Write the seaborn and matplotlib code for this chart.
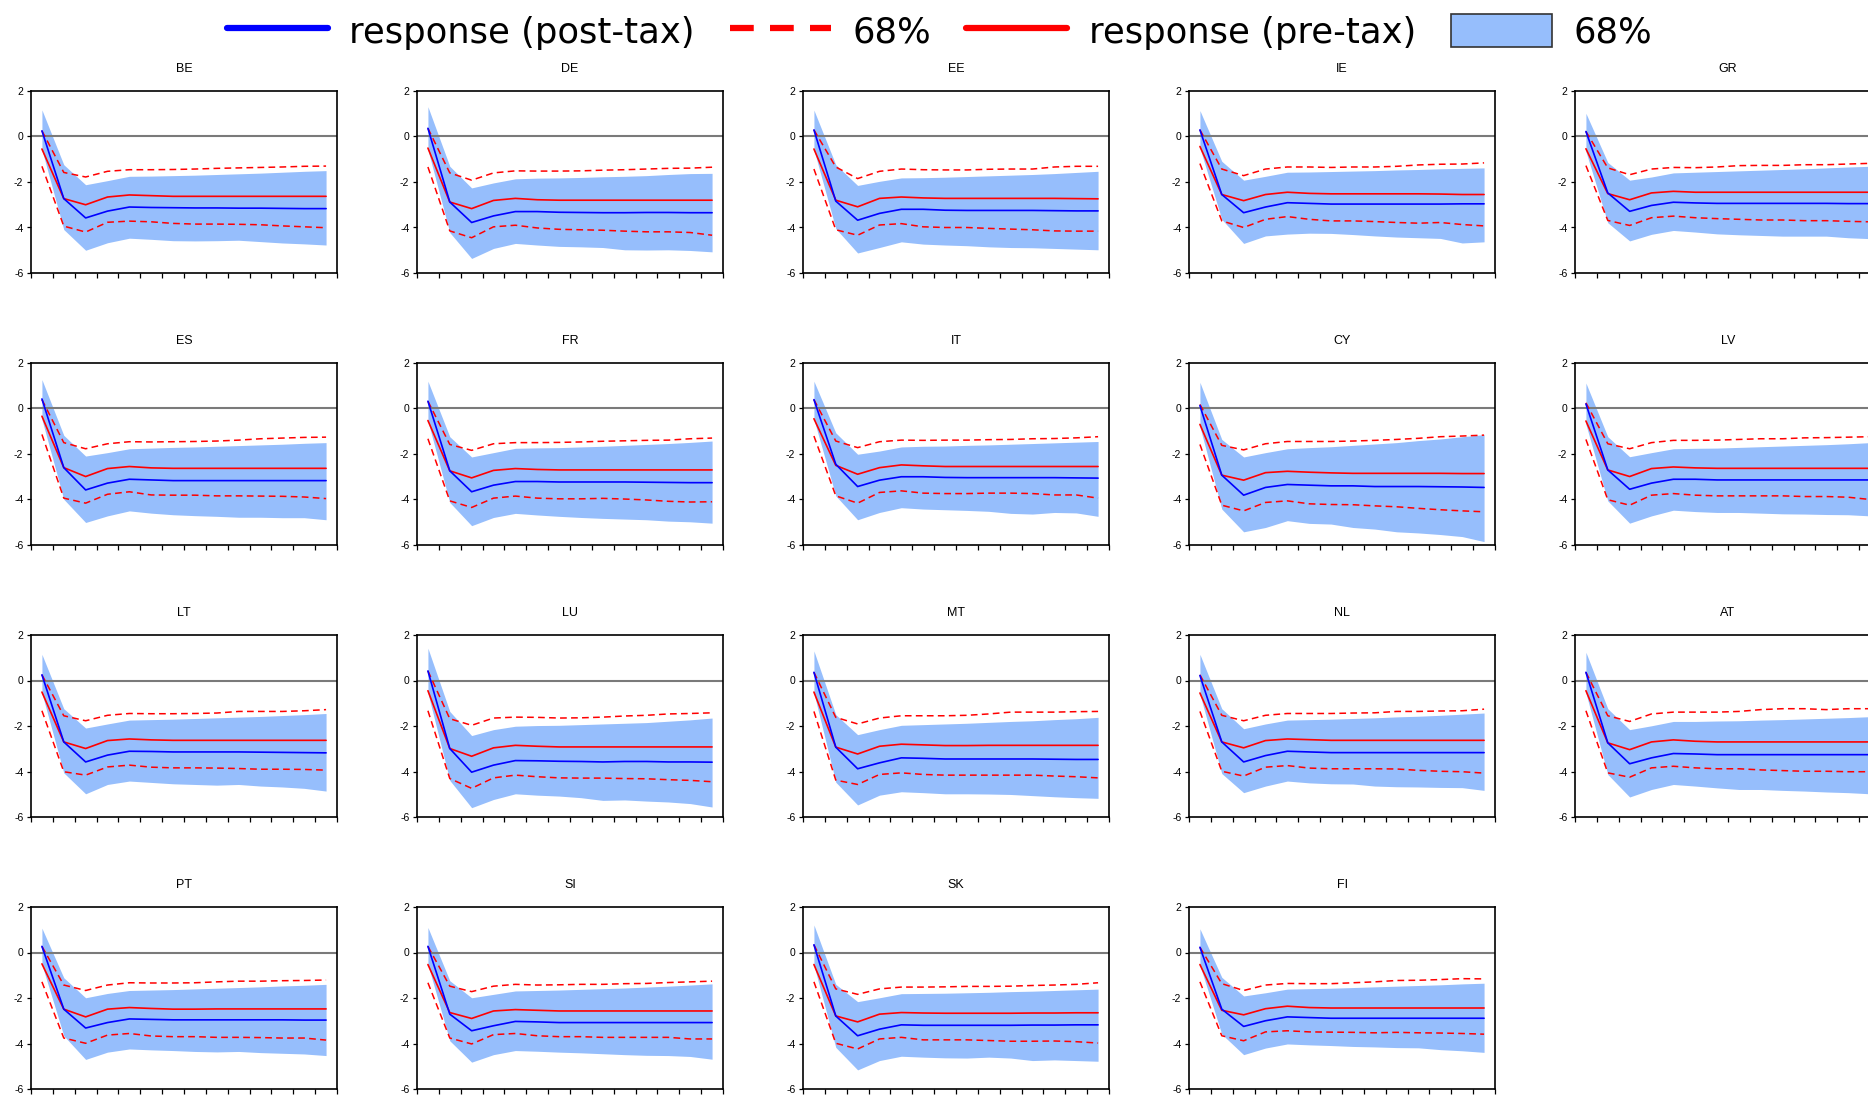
import matplotlib
matplotlib.use("Agg")
import matplotlib.pyplot as plt
import numpy as np
import pandas as pd
import seaborn as sns
from matplotlib.lines import Line2D
from matplotlib.patches import Patch

# ---------------------------------------------------------------------------
# Impulse responses by country, horizons 1..14
# ---------------------------------------------------------------------------
countries = ["BE", "DE", "EE", "IE", "GR",
             "ES", "FR", "IT", "CY", "LV",
             "LT", "LU", "MT", "NL", "AT",
             "PT", "SI", "SK", "FI"]
horizon = list(range(1, 15))

# response (post-tax)
post_tax = {
    "BE": [0.25, -2.73, -3.58, -3.28, -3.10, -3.12, -3.13, -3.14, -3.14, -3.15, -3.15, -3.16, -3.17, -3.17],
    "DE": [0.36, -2.88, -3.78, -3.49, -3.30, -3.30, -3.33, -3.34, -3.35, -3.35, -3.34, -3.34, -3.35, -3.35],
    "EE": [0.29, -2.84, -3.68, -3.38, -3.20, -3.20, -3.24, -3.25, -3.25, -3.25, -3.25, -3.26, -3.27, -3.27],
    "IE": [0.29, -2.55, -3.35, -3.10, -2.91, -2.94, -2.97, -2.97, -2.97, -2.97, -2.97, -2.97, -2.96, -2.96],
    "GR": [0.22, -2.48, -3.29, -3.03, -2.89, -2.92, -2.94, -2.94, -2.94, -2.94, -2.94, -2.94, -2.95, -2.95],
    "ES": [0.42, -2.60, -3.58, -3.28, -3.11, -3.14, -3.17, -3.17, -3.17, -3.17, -3.17, -3.17, -3.17, -3.17],
    "FR": [0.32, -2.74, -3.66, -3.37, -3.21, -3.21, -3.23, -3.23, -3.23, -3.23, -3.24, -3.25, -3.26, -3.26],
    "IT": [0.39, -2.45, -3.43, -3.15, -3.00, -3.00, -3.03, -3.04, -3.04, -3.04, -3.04, -3.04, -3.05, -3.06],
    "CY": [0.13, -2.93, -3.81, -3.47, -3.34, -3.37, -3.40, -3.40, -3.43, -3.43, -3.43, -3.44, -3.45, -3.47],
    "LV": [0.20, -2.70, -3.55, -3.28, -3.11, -3.11, -3.14, -3.14, -3.14, -3.14, -3.14, -3.14, -3.14, -3.14],
    "LT": [0.25, -2.70, -3.58, -3.28, -3.11, -3.12, -3.14, -3.14, -3.14, -3.14, -3.15, -3.16, -3.17, -3.18],
    "LU": [0.42, -2.99, -4.03, -3.72, -3.52, -3.53, -3.55, -3.56, -3.58, -3.56, -3.56, -3.58, -3.58, -3.59],
    "MT": [0.36, -2.93, -3.88, -3.62, -3.40, -3.42, -3.45, -3.45, -3.45, -3.45, -3.45, -3.46, -3.47, -3.47],
    "NL": [0.22, -2.70, -3.58, -3.30, -3.11, -3.14, -3.17, -3.17, -3.17, -3.17, -3.17, -3.17, -3.17, -3.17],
    "AT": [0.36, -2.74, -3.66, -3.40, -3.21, -3.23, -3.26, -3.26, -3.26, -3.26, -3.26, -3.26, -3.26, -3.26],
    "PT": [0.27, -2.49, -3.32, -3.08, -2.92, -2.94, -2.96, -2.96, -2.96, -2.96, -2.96, -2.96, -2.97, -2.97],
    "SI": [0.27, -2.71, -3.44, -3.22, -3.03, -3.05, -3.08, -3.08, -3.08, -3.08, -3.08, -3.08, -3.08, -3.08],
    "SK": [0.34, -2.79, -3.66, -3.37, -3.18, -3.20, -3.20, -3.20, -3.20, -3.20, -3.19, -3.19, -3.18, -3.18],
    "FI": [0.23, -2.49, -3.25, -3.00, -2.83, -2.86, -2.89, -2.89, -2.89, -2.89, -2.89, -2.89, -2.89, -2.89],
}

# 68% band around the post-tax response (lower / upper)
post_lo = {
    "BE": [-0.58, -4.09, -5.00, -4.67, -4.47, -4.52, -4.58, -4.59, -4.58, -4.56, -4.62, -4.68, -4.72, -4.77],
    "DE": [-0.58, -4.22, -5.36, -4.92, -4.70, -4.77, -4.83, -4.85, -4.88, -4.98, -4.99, -4.98, -5.01, -5.07],
    "EE": [-0.58, -4.05, -5.12, -4.88, -4.63, -4.73, -4.77, -4.80, -4.85, -4.88, -4.89, -4.92, -4.95, -4.98],
    "IE": [-0.51, -3.64, -4.70, -4.37, -4.29, -4.25, -4.26, -4.31, -4.37, -4.42, -4.45, -4.48, -4.68, -4.63],
    "GR": [-0.66, -3.79, -4.59, -4.30, -4.13, -4.20, -4.28, -4.32, -4.35, -4.38, -4.38, -4.38, -4.45, -4.49],
    "ES": [-0.48, -3.99, -5.01, -4.72, -4.50, -4.60, -4.67, -4.71, -4.74, -4.78, -4.78, -4.80, -4.80, -4.89],
    "FR": [-0.55, -4.13, -5.15, -4.79, -4.61, -4.68, -4.74, -4.79, -4.83, -4.86, -4.89, -4.95, -4.98, -5.04],
    "IT": [-0.48, -3.84, -4.89, -4.57, -4.36, -4.42, -4.45, -4.48, -4.52, -4.61, -4.64, -4.57, -4.59, -4.74],
    "CY": [-0.80, -4.42, -5.42, -5.23, -4.93, -5.05, -5.08, -5.23, -5.30, -5.42, -5.47, -5.54, -5.63, -5.85],
    "LV": [-0.70, -4.06, -5.04, -4.72, -4.47, -4.53, -4.57, -4.57, -4.60, -4.63, -4.64, -4.66, -4.67, -4.72],
    "LT": [-0.55, -4.06, -4.98, -4.57, -4.42, -4.48, -4.54, -4.57, -4.60, -4.57, -4.64, -4.68, -4.74, -4.86],
    "LU": [-0.55, -4.39, -5.59, -5.23, -4.98, -5.04, -5.08, -5.15, -5.27, -5.25, -5.30, -5.34, -5.41, -5.56],
    "MT": [-0.55, -4.47, -5.47, -5.04, -4.89, -4.93, -4.98, -4.98, -4.99, -5.01, -5.06, -5.11, -5.15, -5.18],
    "NL": [-0.60, -4.09, -4.93, -4.64, -4.42, -4.50, -4.54, -4.55, -4.64, -4.67, -4.68, -4.70, -4.71, -4.83],
    "AT": [-0.55, -4.13, -5.12, -4.79, -4.57, -4.64, -4.72, -4.79, -4.79, -4.83, -4.86, -4.90, -4.93, -4.98],
    "PT": [-0.53, -3.66, -4.70, -4.38, -4.24, -4.28, -4.31, -4.35, -4.37, -4.35, -4.40, -4.43, -4.46, -4.53],
    "SI": [-0.53, -3.88, -4.82, -4.49, -4.31, -4.34, -4.38, -4.41, -4.45, -4.49, -4.52, -4.53, -4.57, -4.69],
    "SK": [-0.56, -4.17, -5.16, -4.75, -4.56, -4.60, -4.63, -4.64, -4.60, -4.64, -4.75, -4.72, -4.75, -4.78],
    "FI": [-0.56, -3.59, -4.49, -4.20, -4.02, -4.06, -4.09, -4.13, -4.15, -4.18, -4.19, -4.27, -4.32, -4.39],
}
post_hi = {
    "BE": [1.17, -1.24, -2.12, -1.94, -1.75, -1.74, -1.72, -1.70, -1.67, -1.64, -1.61, -1.57, -1.53, -1.50],
    "DE": [1.31, -1.31, -2.26, -2.04, -1.86, -1.83, -1.82, -1.80, -1.77, -1.75, -1.72, -1.67, -1.63, -1.62],
    "EE": [1.16, -1.24, -2.15, -1.97, -1.82, -1.81, -1.79, -1.76, -1.73, -1.70, -1.67, -1.63, -1.58, -1.53],
    "IE": [1.14, -1.09, -1.92, -1.75, -1.57, -1.56, -1.54, -1.52, -1.50, -1.47, -1.45, -1.42, -1.40, -1.38],
    "GR": [1.02, -1.14, -1.92, -1.78, -1.60, -1.57, -1.54, -1.51, -1.48, -1.45, -1.42, -1.38, -1.34, -1.31],
    "ES": [1.27, -1.18, -2.09, -1.94, -1.77, -1.74, -1.71, -1.69, -1.66, -1.63, -1.60, -1.57, -1.53, -1.50],
    "FR": [1.20, -1.24, -2.13, -1.94, -1.75, -1.73, -1.72, -1.69, -1.66, -1.62, -1.58, -1.54, -1.49, -1.43],
    "IT": [1.20, -1.07, -2.01, -1.87, -1.69, -1.66, -1.65, -1.62, -1.60, -1.57, -1.54, -1.51, -1.48, -1.45],
    "CY": [1.15, -1.36, -2.13, -1.94, -1.77, -1.72, -1.68, -1.62, -1.56, -1.50, -1.41, -1.34, -1.24, -1.15],
    "LV": [1.12, -1.24, -2.12, -1.94, -1.77, -1.75, -1.74, -1.71, -1.68, -1.65, -1.62, -1.59, -1.55, -1.50],
    "LT": [1.15, -1.24, -2.09, -1.91, -1.74, -1.72, -1.70, -1.67, -1.64, -1.61, -1.58, -1.54, -1.50, -1.45],
    "LU": [1.42, -1.36, -2.42, -2.16, -2.01, -1.98, -1.97, -1.94, -1.91, -1.88, -1.85, -1.79, -1.73, -1.65],
    "MT": [1.30, -1.50, -2.38, -2.16, -1.97, -1.94, -1.91, -1.88, -1.84, -1.80, -1.77, -1.72, -1.68, -1.62],
    "NL": [1.15, -1.24, -2.12, -1.91, -1.74, -1.72, -1.70, -1.67, -1.64, -1.60, -1.57, -1.53, -1.48, -1.43],
    "AT": [1.24, -1.24, -2.16, -1.99, -1.80, -1.80, -1.78, -1.77, -1.74, -1.72, -1.69, -1.66, -1.63, -1.59],
    "PT": [1.07, -1.11, -1.99, -1.80, -1.67, -1.65, -1.63, -1.60, -1.57, -1.54, -1.51, -1.47, -1.44, -1.40],
    "SI": [1.10, -1.24, -1.99, -1.84, -1.69, -1.67, -1.65, -1.62, -1.59, -1.56, -1.52, -1.48, -1.43, -1.38],
    "SK": [1.21, -1.40, -2.16, -1.99, -1.81, -1.80, -1.79, -1.77, -1.75, -1.72, -1.70, -1.67, -1.64, -1.61],
    "FI": [1.04, -1.09, -1.91, -1.77, -1.61, -1.59, -1.57, -1.54, -1.51, -1.48, -1.45, -1.42, -1.38, -1.35],
}

# response (pre-tax)
pre_tax = {
    "BE": [-0.55, -2.73, -3.00, -2.66, -2.57, -2.60, -2.63, -2.63, -2.63, -2.63, -2.63, -2.63, -2.63, -2.63],
    "DE": [-0.51, -2.88, -3.17, -2.81, -2.72, -2.78, -2.80, -2.80, -2.80, -2.80, -2.80, -2.80, -2.80, -2.80],
    "EE": [-0.55, -2.80, -3.09, -2.72, -2.66, -2.70, -2.72, -2.72, -2.72, -2.72, -2.72, -2.72, -2.73, -2.74],
    "IE": [-0.44, -2.55, -2.82, -2.55, -2.45, -2.50, -2.52, -2.52, -2.52, -2.52, -2.52, -2.53, -2.55, -2.55],
    "GR": [-0.54, -2.51, -2.78, -2.48, -2.41, -2.45, -2.45, -2.45, -2.45, -2.45, -2.45, -2.45, -2.45, -2.45],
    "ES": [-0.34, -2.60, -2.99, -2.64, -2.55, -2.61, -2.63, -2.63, -2.63, -2.63, -2.63, -2.63, -2.63, -2.63],
    "FR": [-0.53, -2.74, -3.05, -2.72, -2.64, -2.68, -2.70, -2.70, -2.70, -2.70, -2.70, -2.70, -2.70, -2.70],
    "IT": [-0.45, -2.50, -2.89, -2.60, -2.48, -2.52, -2.55, -2.55, -2.55, -2.55, -2.55, -2.55, -2.55, -2.55],
    "CY": [-0.70, -2.93, -3.15, -2.82, -2.76, -2.80, -2.83, -2.85, -2.85, -2.85, -2.85, -2.85, -2.86, -2.86],
    "LV": [-0.55, -2.70, -2.99, -2.64, -2.57, -2.61, -2.63, -2.63, -2.63, -2.63, -2.63, -2.63, -2.63, -2.63],
    "LT": [-0.51, -2.70, -2.99, -2.64, -2.57, -2.61, -2.63, -2.63, -2.63, -2.63, -2.63, -2.63, -2.63, -2.63],
    "LU": [-0.45, -2.99, -3.33, -2.96, -2.85, -2.89, -2.92, -2.92, -2.92, -2.92, -2.92, -2.92, -2.92, -2.92],
    "MT": [-0.51, -2.93, -3.23, -2.89, -2.80, -2.83, -2.86, -2.86, -2.85, -2.85, -2.85, -2.85, -2.85, -2.85],
    "NL": [-0.55, -2.70, -2.96, -2.64, -2.57, -2.60, -2.63, -2.63, -2.63, -2.63, -2.63, -2.63, -2.63, -2.63],
    "AT": [-0.45, -2.74, -3.04, -2.70, -2.61, -2.67, -2.70, -2.70, -2.70, -2.70, -2.70, -2.70, -2.70, -2.70],
    "PT": [-0.50, -2.49, -2.83, -2.49, -2.42, -2.46, -2.49, -2.49, -2.48, -2.48, -2.48, -2.48, -2.48, -2.48],
    "SI": [-0.53, -2.64, -2.90, -2.57, -2.51, -2.54, -2.57, -2.57, -2.57, -2.57, -2.57, -2.57, -2.57, -2.57],
    "SK": [-0.53, -2.79, -3.05, -2.71, -2.64, -2.66, -2.67, -2.67, -2.67, -2.67, -2.66, -2.66, -2.65, -2.65],
    "FI": [-0.53, -2.54, -2.74, -2.47, -2.36, -2.42, -2.44, -2.44, -2.44, -2.44, -2.44, -2.44, -2.44, -2.44],
}

# 68% bounds around the pre-tax response (lower / upper, dashed)
pre_lo = {
    "BE": [-1.31, -3.94, -4.20, -3.77, -3.72, -3.75, -3.82, -3.85, -3.85, -3.86, -3.88, -3.93, -3.97, -4.01],
    "DE": [-1.34, -4.15, -4.45, -3.97, -3.90, -4.02, -4.08, -4.10, -4.12, -4.16, -4.19, -4.19, -4.22, -4.34],
    "EE": [-1.43, -4.10, -4.34, -3.89, -3.83, -3.97, -4.00, -4.00, -4.04, -4.07, -4.10, -4.15, -4.16, -4.16],
    "IE": [-1.19, -3.71, -4.00, -3.64, -3.52, -3.64, -3.71, -3.71, -3.74, -3.78, -3.81, -3.78, -3.87, -3.93],
    "GR": [-1.28, -3.69, -3.91, -3.57, -3.50, -3.57, -3.61, -3.64, -3.67, -3.67, -3.70, -3.70, -3.73, -3.75],
    "ES": [-1.14, -3.94, -4.16, -3.77, -3.66, -3.80, -3.81, -3.81, -3.84, -3.84, -3.85, -3.86, -3.89, -3.96],
    "FR": [-1.33, -4.06, -4.35, -3.94, -3.85, -3.94, -3.97, -3.97, -3.95, -3.98, -4.02, -4.08, -4.11, -4.10],
    "IT": [-1.21, -3.84, -4.16, -3.69, -3.62, -3.72, -3.74, -3.74, -3.72, -3.72, -3.74, -3.80, -3.80, -3.94],
    "CY": [-1.58, -4.25, -4.50, -4.13, -4.06, -4.19, -4.22, -4.23, -4.28, -4.32, -4.39, -4.45, -4.50, -4.54],
    "LV": [-1.36, -4.01, -4.25, -3.81, -3.74, -3.81, -3.84, -3.84, -3.84, -3.84, -3.87, -3.87, -3.90, -4.00],
    "LT": [-1.33, -4.01, -4.16, -3.80, -3.72, -3.81, -3.84, -3.84, -3.85, -3.87, -3.90, -3.90, -3.91, -3.94],
    "LU": [-1.33, -4.31, -4.74, -4.28, -4.16, -4.23, -4.28, -4.29, -4.29, -4.31, -4.32, -4.36, -4.39, -4.45],
    "MT": [-1.36, -4.38, -4.57, -4.13, -4.06, -4.13, -4.16, -4.16, -4.16, -4.16, -4.16, -4.20, -4.23, -4.28],
    "NL": [-1.36, -3.99, -4.20, -3.81, -3.74, -3.85, -3.88, -3.88, -3.88, -3.89, -3.95, -3.99, -4.01, -4.07],
    "AT": [-1.33, -4.06, -4.25, -3.84, -3.77, -3.84, -3.88, -3.88, -3.93, -3.96, -3.99, -3.99, -4.01, -4.01],
    "PT": [-1.29, -3.76, -3.99, -3.63, -3.56, -3.67, -3.70, -3.70, -3.73, -3.73, -3.74, -3.76, -3.76, -3.85],
    "SI": [-1.33, -3.76, -4.02, -3.61, -3.56, -3.66, -3.70, -3.70, -3.73, -3.73, -3.73, -3.73, -3.80, -3.80],
    "SK": [-1.29, -3.99, -4.24, -3.80, -3.73, -3.84, -3.84, -3.84, -3.87, -3.90, -3.90, -3.89, -3.92, -3.98],
    "FI": [-1.29, -3.66, -3.88, -3.49, -3.44, -3.49, -3.50, -3.51, -3.53, -3.51, -3.53, -3.54, -3.56, -3.59],
}
pre_hi = {
    "BE": [0.25, -1.58, -1.78, -1.53, -1.46, -1.46, -1.45, -1.43, -1.40, -1.38, -1.36, -1.34, -1.31, -1.30],
    "DE": [0.36, -1.60, -1.92, -1.60, -1.51, -1.52, -1.52, -1.51, -1.48, -1.46, -1.43, -1.40, -1.39, -1.35],
    "EE": [0.29, -1.34, -1.85, -1.53, -1.43, -1.46, -1.47, -1.47, -1.44, -1.43, -1.43, -1.34, -1.31, -1.31],
    "IE": [0.29, -1.43, -1.72, -1.43, -1.34, -1.34, -1.36, -1.34, -1.34, -1.31, -1.25, -1.22, -1.21, -1.16],
    "GR": [0.22, -1.38, -1.68, -1.43, -1.36, -1.37, -1.34, -1.28, -1.27, -1.27, -1.24, -1.24, -1.21, -1.18],
    "ES": [0.39, -1.50, -1.77, -1.55, -1.46, -1.47, -1.46, -1.45, -1.43, -1.39, -1.33, -1.30, -1.27, -1.26],
    "FR": [0.32, -1.58, -1.84, -1.55, -1.50, -1.50, -1.49, -1.47, -1.44, -1.42, -1.40, -1.39, -1.33, -1.30],
    "IT": [0.39, -1.43, -1.72, -1.46, -1.39, -1.40, -1.39, -1.39, -1.37, -1.36, -1.33, -1.32, -1.29, -1.24],
    "CY": [0.18, -1.62, -1.82, -1.55, -1.45, -1.45, -1.45, -1.43, -1.40, -1.36, -1.31, -1.24, -1.21, -1.17],
    "LV": [0.25, -1.55, -1.77, -1.50, -1.40, -1.40, -1.39, -1.36, -1.33, -1.33, -1.29, -1.28, -1.26, -1.24],
    "LT": [0.25, -1.55, -1.77, -1.53, -1.45, -1.46, -1.46, -1.45, -1.43, -1.36, -1.36, -1.36, -1.33, -1.28],
    "LU": [0.42, -1.68, -1.97, -1.65, -1.61, -1.62, -1.65, -1.64, -1.61, -1.56, -1.53, -1.47, -1.45, -1.42],
    "MT": [0.36, -1.62, -1.91, -1.65, -1.55, -1.55, -1.55, -1.53, -1.47, -1.39, -1.39, -1.39, -1.37, -1.36],
    "NL": [0.25, -1.53, -1.77, -1.53, -1.45, -1.45, -1.45, -1.43, -1.42, -1.36, -1.36, -1.34, -1.33, -1.26],
    "AT": [0.36, -1.55, -1.80, -1.47, -1.39, -1.39, -1.39, -1.36, -1.28, -1.24, -1.24, -1.28, -1.24, -1.24],
    "PT": [0.27, -1.43, -1.67, -1.43, -1.33, -1.34, -1.34, -1.33, -1.29, -1.26, -1.26, -1.24, -1.23, -1.21],
    "SI": [0.27, -1.48, -1.72, -1.48, -1.40, -1.43, -1.42, -1.40, -1.40, -1.37, -1.36, -1.32, -1.29, -1.26],
    "SK": [0.34, -1.60, -1.84, -1.60, -1.52, -1.52, -1.51, -1.49, -1.49, -1.48, -1.45, -1.43, -1.40, -1.33],
    "FI": [0.23, -1.37, -1.67, -1.43, -1.36, -1.37, -1.37, -1.33, -1.29, -1.23, -1.22, -1.19, -1.15, -1.16],
}

y_ticks = [-6, -4, -2, 0, 2]
y_tick_labels = ["-6", "-4", "-2", "0", "2"]
legend_labels = ["response (post-tax)", "68%", "response (pre-tax)", "68%"]

# ---------------------------------------------------------------------------
# Styling
# ---------------------------------------------------------------------------
sns.set_style("ticks")
plt.rcParams["font.family"] = ["Liberation Sans", "DejaVu Sans"]
plt.rcParams["axes.unicode_minus"] = False
plt.rcParams["text.color"] = "black"
plt.rcParams["xtick.color"] = "black"
plt.rcParams["ytick.color"] = "black"
plt.rcParams["xtick.labelcolor"] = "black"
plt.rcParams["ytick.labelcolor"] = "black"

BLUE = "#0000FF"
RED = "#FF0000"
BAND = "#96BEFC"
ZERO = "#7A7A7A"

W, H = 1868, 1095
fig = plt.figure(figsize=(W / 100, H / 100), dpi=100)

col_left = [31, 417, 803, 1189, 1575]   # pixel position of each panel column
row_top = [91, 363, 635, 907]           # pixel position of each panel row
ax_w, ax_h = 306, 182

for i, c in enumerate(countries):
    r, k = divmod(i, 5)
    ax = fig.add_axes([col_left[k] / W, 1 - (row_top[r] + ax_h) / H, ax_w / W, ax_h / H])

    df = pd.DataFrame({
        "h": horizon,
        "post": post_tax[c], "post_lo": post_lo[c], "post_hi": post_hi[c],
        "pre": pre_tax[c], "pre_lo": pre_lo[c], "pre_hi": pre_hi[c],
    })

    ax.fill_between(df["h"], df["post_lo"], df["post_hi"], color=BAND, lw=0, zorder=1)
    ax.axhline(0, color=ZERO, lw=1.5, zorder=2)

    for col in ("pre_hi", "pre_lo"):
        sns.lineplot(data=df, x="h", y=col, ax=ax, color=RED, lw=1.1,
                     errorbar=None, zorder=3)
        ax.lines[-1].set_dashes((4.4, 2.8))
    sns.lineplot(data=df, x="h", y="pre", ax=ax, color=RED, lw=1.2,
                 errorbar=None, zorder=4)
    sns.lineplot(data=df, x="h", y="post", ax=ax, color=BLUE, lw=1.2,
                 errorbar=None, zorder=5)

    ax.set_xlim(0.5, 14.5)
    ax.set_ylim(-6, 2)
    ax.set_xticks(np.arange(0.5, 15, 1.0))
    ax.set_xticklabels([])
    ax.set_yticks(y_ticks)
    ax.set_yticklabels(y_tick_labels)
    ax.set_xlabel("")
    ax.set_ylabel("")
    ax.tick_params(axis="x", direction="out", length=3.6, width=0.9, color="black")
    ax.tick_params(axis="y", direction="out", length=3.0, width=0.9, color="black",
                   labelsize=7.5, pad=2.5, labelcolor="black")
    for s in ax.spines.values():
        s.set_color("black")
        s.set_linewidth(1.2)
    ax.set_title(c, fontsize=9, pad=14, color="black")

# Legend across the top
handles = [
    Line2D([], [], color=BLUE, lw=4.5),
    Line2D([], [], color=RED, lw=4.5, dashes=(3.8, 2.6)),
    Line2D([], [], color=RED, lw=4.5),
    Patch(facecolor=BAND, edgecolor="#333333", lw=1.2),
]
leg = fig.legend(handles, legend_labels, loc="center", bbox_to_anchor=(0.503, 1 - 32 / H),
                 ncol=4, frameon=False, prop={"family": "DejaVu Sans", "size": 25.5},
                 handlelength=2.85, handleheight=1.05, handletextpad=0.6,
                 columnspacing=1.0, borderaxespad=0)
for t in leg.get_texts():
    t.set_color("black")

fig.savefig("out.png", dpi=100)
